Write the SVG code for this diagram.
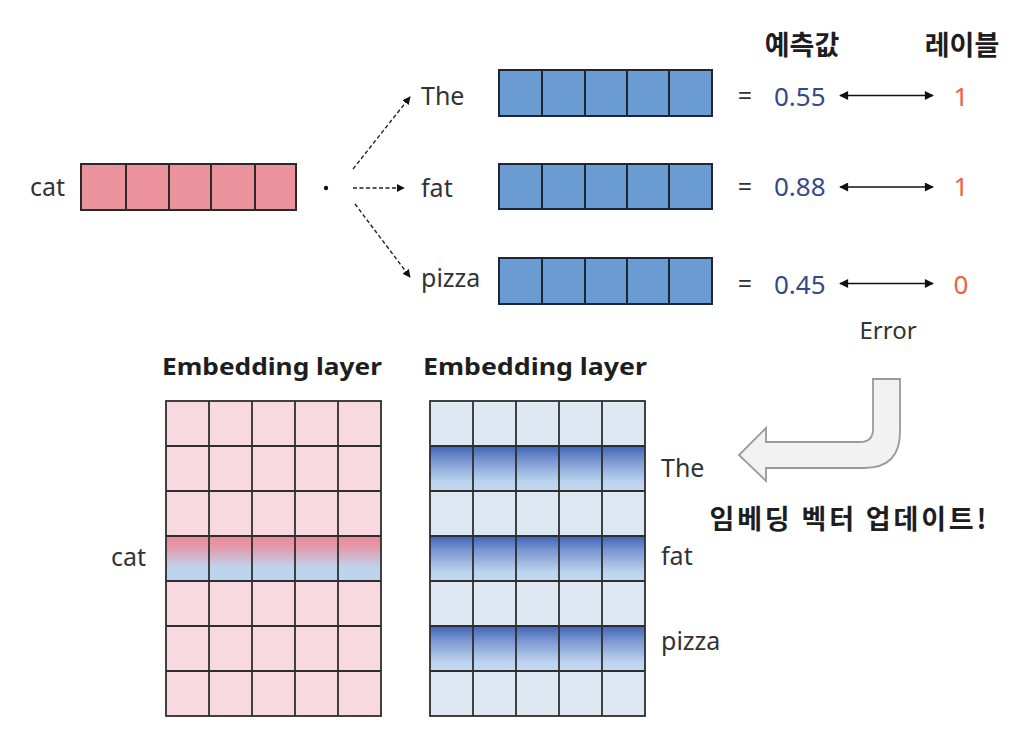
<svg xmlns="http://www.w3.org/2000/svg" width="1030" height="746" viewBox="0 0 1030 746">
<style>
  text { font-family: "Noto Sans", "Noto Sans CJK KR", sans-serif; fill: #333333; }
  .lbl { font-size: 25px; }
  .num { font-size: 26px; fill: #34498A; }
  .tgt { font-size: 26px; fill: #F2603A; }
  .hdr { font-size: 27px; font-weight: bold; fill: #1E1E1E; font-family: "Noto Sans CJK KR", sans-serif; }
  .ttl { font-size: 24px; font-weight: bold; fill: #1E1E1E; }
  .pinkcell { fill: #EC929D; stroke: #2A2A2A; stroke-width: 2; }
  .bluecell { fill: #6A9BD2; stroke: #1E2633; stroke-width: 2; }
  .gline { stroke: #2E2E2E; stroke-width: 1.8; fill: none; }
  .dash { stroke: #222; stroke-width: 1.4; stroke-dasharray: 4 2.5; fill: none; }
  .dbl { stroke: #111; stroke-width: 1.6; fill: none; }
</style>
<defs>
  <marker id="ah" viewBox="0 0 10 10" refX="9" refY="5" markerWidth="8" markerHeight="8" markerUnits="userSpaceOnUse" orient="auto">
    <path d="M0,0 L10,5 L0,10 Z" fill="#111"/>
  </marker>
  <marker id="ah2" viewBox="0 0 10 10" refX="9" refY="5" markerWidth="10" markerHeight="9" markerUnits="userSpaceOnUse" orient="auto-start-reverse">
    <path d="M0,0 L10,5 L0,10 Z" fill="#111"/>
  </marker>
  <linearGradient id="gCat" x1="0" y1="0" x2="0" y2="1">
    <stop offset="0" stop-color="#E8889A"/>
    <stop offset="0.25" stop-color="#E39AAA"/>
    <stop offset="0.7" stop-color="#BED3EC"/>
    <stop offset="1" stop-color="#BCD4EE"/>
  </linearGradient>
  <linearGradient id="gBlue" x1="0" y1="0" x2="0" y2="1">
    <stop offset="0" stop-color="#4062B8"/>
    <stop offset="0.35" stop-color="#7E9BD2"/>
    <stop offset="0.8" stop-color="#BCD3EE"/>
    <stop offset="1" stop-color="#C4D9F0"/>
  </linearGradient>
</defs>

<!-- Top: cat vector -->
<g id="cat-vector">
  <text class="lbl" x="30" y="196">cat</text>
  <rect class="pinkcell" x="81" y="164" width="45" height="46"/>
  <rect class="pinkcell" x="126" y="164" width="43" height="46"/>
  <rect class="pinkcell" x="169" y="164" width="42" height="46"/>
  <rect class="pinkcell" x="211" y="164" width="44" height="46"/>
  <rect class="pinkcell" x="255" y="164" width="41" height="46"/>
</g>
<g id="dot">
  <circle cx="326" cy="188" r="2.2" fill="#111"/>
</g>

<!-- Context vectors -->
<g id="the-vector">
  <text class="lbl" x="421" y="105">The</text>
  <rect class="bluecell" x="499" y="70" width="43" height="46"/>
  <rect class="bluecell" x="542" y="70" width="43" height="46"/>
  <rect class="bluecell" x="585" y="70" width="42" height="46"/>
  <rect class="bluecell" x="627" y="70" width="42" height="46"/>
  <rect class="bluecell" x="669" y="70" width="43" height="46"/>
  <text x="745" y="105" class="lbl" text-anchor="middle">=</text>
  <text class="num" x="774" y="106">0.55</text>
  <text class="tgt" x="961" y="106" text-anchor="middle">1</text>
</g>
<g id="fat-vector">
  <text class="lbl" x="421" y="197">fat</text>
  <rect class="bluecell" x="499" y="164" width="43" height="45"/>
  <rect class="bluecell" x="542" y="164" width="43" height="45"/>
  <rect class="bluecell" x="585" y="164" width="42" height="45"/>
  <rect class="bluecell" x="627" y="164" width="42" height="45"/>
  <rect class="bluecell" x="669" y="164" width="43" height="45"/>
  <text x="745" y="196" class="lbl" text-anchor="middle">=</text>
  <text class="num" x="774" y="196">0.88</text>
  <text class="tgt" x="961" y="196" text-anchor="middle">1</text>
</g>
<g id="pizza-vector">
  <text class="lbl" x="421" y="287">pizza</text>
  <rect class="bluecell" x="499" y="258" width="43" height="46"/>
  <rect class="bluecell" x="542" y="258" width="43" height="46"/>
  <rect class="bluecell" x="585" y="258" width="42" height="46"/>
  <rect class="bluecell" x="627" y="258" width="42" height="46"/>
  <rect class="bluecell" x="669" y="258" width="43" height="46"/>
  <text x="745" y="293" class="lbl" text-anchor="middle">=</text>
  <text class="num" x="774" y="294">0.45</text>
  <text class="tgt" x="961" y="294" text-anchor="middle">0</text>
</g>

<g id="headers">
  <text class="hdr" x="802" y="55" text-anchor="middle">예측값</text>
  <text class="hdr" x="962" y="55" text-anchor="middle">레이블</text>
  <text class="lbl" x="888" y="339" text-anchor="middle" style="font-size:24px">Error</text>
</g>

<!-- Connectors -->
<g id="connectors">
  <line class="dash" x1="353" y1="169" x2="410" y2="97" marker-end="url(#ah)"/>
  <line class="dash" x1="353" y1="188" x2="404" y2="188" marker-end="url(#ah)"/>
  <line class="dash" x1="355" y1="204" x2="410" y2="277" marker-end="url(#ah)"/>
  <line class="dbl" x1="840" y1="95.5" x2="933" y2="95.5" marker-start="url(#ah2)" marker-end="url(#ah2)"/>
  <line class="dbl" x1="840" y1="187" x2="933" y2="187" marker-start="url(#ah2)" marker-end="url(#ah2)"/>
  <line class="dbl" x1="840" y1="283.5" x2="933" y2="283.5" marker-start="url(#ah2)" marker-end="url(#ah2)"/>
</g>

<!-- Left embedding layer -->
<g id="embedding-left">
  <text class="ttl" x="272" y="375" text-anchor="middle" textLength="220" lengthAdjust="spacingAndGlyphs">Embedding layer</text>
  <rect x="166" y="401" width="215" height="315" fill="#F8D9DF"/>
  <rect x="166" y="536" width="215" height="45" fill="url(#gCat)"/>
  <g class="gline">
    <rect x="166" y="401" width="215" height="315"/>
    <line x1="209" y1="401" x2="209" y2="716"/>
    <line x1="252" y1="401" x2="252" y2="716"/>
    <line x1="295" y1="401" x2="295" y2="716"/>
    <line x1="338" y1="401" x2="338" y2="716"/>
    <line x1="166" y1="446" x2="381" y2="446"/>
    <line x1="166" y1="491" x2="381" y2="491"/>
    <line x1="166" y1="536" x2="381" y2="536"/>
    <line x1="166" y1="581" x2="381" y2="581"/>
    <line x1="166" y1="626" x2="381" y2="626"/>
    <line x1="166" y1="671" x2="381" y2="671"/>
  </g>
  <text class="lbl" x="111" y="566">cat</text>
</g>

<!-- Right embedding layer -->
<g id="embedding-right">
  <text class="ttl" x="535" y="375" text-anchor="middle" textLength="224" lengthAdjust="spacingAndGlyphs">Embedding layer</text>
  <rect x="430" y="401" width="215" height="315" fill="#DEE8F3"/>
  <rect x="430" y="446" width="215" height="45" fill="url(#gBlue)"/>
  <rect x="430" y="536" width="215" height="45" fill="url(#gBlue)"/>
  <rect x="430" y="626" width="215" height="45" fill="url(#gBlue)"/>
  <g class="gline">
    <rect x="430" y="401" width="215" height="315"/>
    <line x1="473" y1="401" x2="473" y2="716"/>
    <line x1="516" y1="401" x2="516" y2="716"/>
    <line x1="559" y1="401" x2="559" y2="716"/>
    <line x1="602" y1="401" x2="602" y2="716"/>
    <line x1="430" y1="446" x2="645" y2="446"/>
    <line x1="430" y1="491" x2="645" y2="491"/>
    <line x1="430" y1="536" x2="645" y2="536"/>
    <line x1="430" y1="581" x2="645" y2="581"/>
    <line x1="430" y1="626" x2="645" y2="626"/>
    <line x1="430" y1="671" x2="645" y2="671"/>
  </g>
  <text class="lbl" x="661" y="477">The</text>
  <text class="lbl" x="661" y="565">fat</text>
  <text class="lbl" x="661" y="650">pizza</text>
</g>

<!-- Update arrow -->
<g id="update-arrow">
  <path d="M873 379 L900 379 L900 432 Q900 468 864 468 L766 468 L766 481 L739 455 L766 428 L766 442 L860 442 Q873 442 873 429 Z" fill="#F2F2F2" stroke="#9A9A9A" stroke-width="1.8" stroke-linejoin="miter"/>
  <text class="hdr" x="848" y="529" text-anchor="middle" textLength="277" lengthAdjust="spacing">임베딩 벡터 업데이트!</text>
</g>
</svg>
